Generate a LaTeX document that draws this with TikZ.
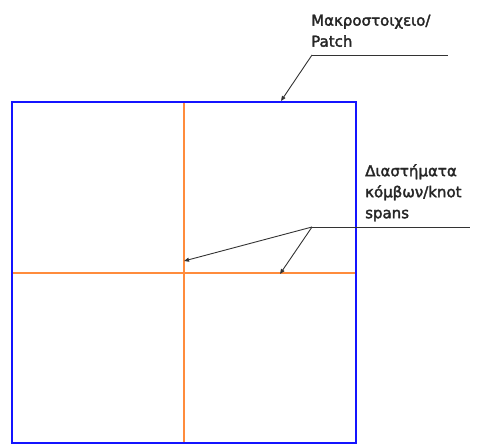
\documentclass[tikz,border=0pt]{standalone}
\usepackage{fontspec}
\setmainfont[FakeBold=2.2]{DejaVu Sans}
\usetikzlibrary{arrows.meta}
\begin{document}
\begin{tikzpicture}[x=1pt,y=-1pt,
  patchline/.style={draw={rgb,255:red,20;green,20;blue,255},line width=2pt},
  spanline/.style={draw={rgb,255:red,255;green,140;blue,60},line width=1.8pt},
  leader/.style={draw=black!80,line width=0.9pt},
  pointer/.style={leader,-{Triangle[length=5pt,width=4pt]}},
  label/.style={anchor=north west,inner sep=0pt,align=left,text=black!85,font=\fontsize{15}{21}\selectfont}]
\useasboundingbox (0,0) rectangle (477,444);
% knot span lines
\draw[spanline] (184,102) -- (184,444);
\draw[spanline] (12,273) -- (356,273);
% patch outline
\draw[patchline] (12,443) -- (12,102) -- (356,102) -- (356,443) -- cycle;
% labels
\node[label] (patchtxt) at (311,14.5) {Μακροστοιχειο/\\Patch};
\node[label] (spantxt) at (365,164) {Διαστήματα\\κόμβων/knot\\spans};
% leader lines
\coordinate (pa) at (312,55);
\coordinate (pb) at (448,55);
\coordinate (pt) at (281,101);
\draw[leader] (pa) -- (pb);
\draw[pointer] (pa) -- (pt);
\coordinate (sa) at (312,227);
\coordinate (sb) at (470,227);
\coordinate (s1) at (184,261);
\coordinate (s2) at (280,274);
\draw[leader] (sa) -- (sb);
\draw[pointer] (sa) -- (s1);
\draw[pointer] (sa) -- (s2);
\end{tikzpicture}
\end{document}
